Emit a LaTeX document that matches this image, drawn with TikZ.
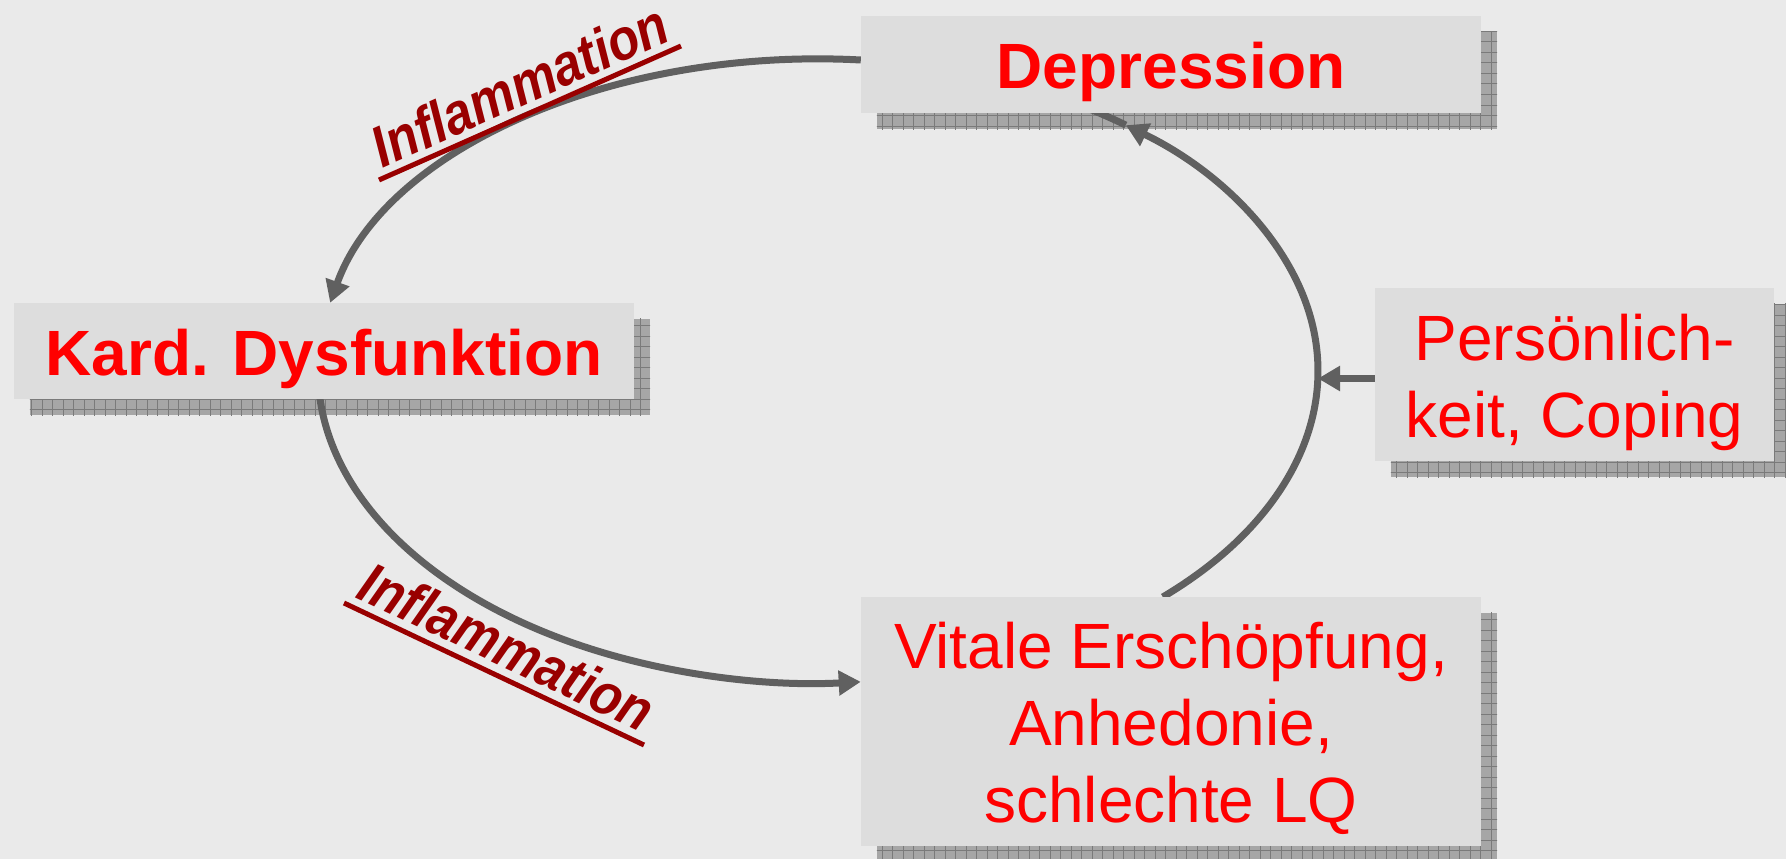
\documentclass[tikz,border=0pt]{standalone}
\usepackage{fontspec}
\setmainfont{Liberation Sans}
\usetikzlibrary{arrows.meta,calc}
\definecolor{bgc}{HTML}{EAEAEA}
\definecolor{boxc}{HTML}{DDDDDD}
\definecolor{shc}{HTML}{A6A6A6}
\definecolor{shgrid}{HTML}{7A7A7A}
\definecolor{linec}{HTML}{606060}
\definecolor{txtred}{HTML}{FF0000}
\definecolor{darkred}{HTML}{990000}
\pgfdeclarelayer{bg}\pgfdeclarelayer{shadow}\pgfdeclarelayer{lines}
\pgfsetlayers{bg,shadow,lines,main}
\newcommand\ls{\rule[-14.5pt]{0pt}{77pt}}
\newcommand\boxshadow[1]{%
  \fill[shc] ([shift={(16pt,-16pt)}]#1.north west) rectangle ([shift={(16pt,-16pt)}]#1.south east);
  \begin{scope}
    \clip ([shift={(16pt,-16pt)}]#1.north west) rectangle ([shift={(16pt,-16pt)}]#1.south east);
    \begin{scope}[y=1pt]
      \draw[shgrid, line width=1pt, step=10.5] (0,-880) grid (1800,0);
    \end{scope}
  \end{scope}
}
\tikzset{
  card/.style={fill=boxc, inner sep=0pt, align=center, text=txtred, font=\fontsize{64}{77}\selectfont},
  conn/.style={draw=linec, line width=7pt, -{Triangle[length=22pt,width=24pt]}},
  plainconn/.style={draw=linec, line width=7pt},
  lab/.style={text=darkred, font=\fontsize{58}{64}\selectfont\bfseries\itshape, inner sep=0pt, anchor=base},
  uline/.style={draw=darkred, line width=5pt},
}
\begin{document}
\begin{tikzpicture}[x=1pt,y=-1pt]
\begin{pgfonlayer}{bg}
  \fill[bgc] (0,0) rectangle (1786,859);
\end{pgfonlayer}
\useasboundingbox (0,0) rectangle (1786,859);

% boxes
\node[card, minimum width=620pt, minimum height=97pt] (dep) at (1171,64.5) {\bfseries\ls Depression};
\node[card, minimum width=620pt, minimum height=96pt] (kard) at (324,351) {\bfseries\ls Kard. Dysfunktion};
\node[card, minimum width=399pt, minimum height=173pt] (pers) at (1574.5,374.5) {\ls Persönlich-\\\ls keit, Coping};
\node[card, minimum width=620pt, minimum height=249pt] (vit) at (1171,721.5) {\ls Vitale Erschöpfung,\\\ls Anhedonie,\\\ls schlechte LQ};

% shadows
\begin{pgfonlayer}{shadow}
  \boxshadow{dep}
  \boxshadow{kard}
  \boxshadow{pers}
  \boxshadow{vit}
\end{pgfonlayer}

% connectors
\begin{pgfonlayer}{lines}
  \coordinate (a1) at ([yshift=4.5pt]dep.west);
  \draw[conn] (a1) arc[start angle=274.9, end angle=192.6, x radius=500, y radius=312];
  \coordinate (a2) at (318.7,387.3);
  \draw[conn] (a2) arc[start angle=177, end angle=85.1, x radius=500, y radius=312];
  \coordinate (a3) at (1162.8,597.0);
  \coordinate (a3t) at (1125.8,125.1);
  \draw[plainconn] (a3t) arc[start angle=-52, end angle=-57, x radius=500, y radius=312];
  \draw[conn] (a3) arc[start angle=46.4, end angle=-52, x radius=500, y radius=312];
  \coordinate (eR) at (1318,378.5);
  \draw[conn] ([yshift=-4pt]pers.west) -- (eR);
\end{pgfonlayer}

% labels
\node[lab, rotate=24] (inf1) at (528,104) {\scalebox{0.88}[1]{Inflammation}};
\draw[uline] (379,180) -- (681,46);
\node[lab, rotate=-25.3] (inf2) at (498,665) {\scalebox{0.88}[1]{Inflammation}};
\draw[uline] (344,603) -- (644,745);
\end{tikzpicture}
\end{document}
